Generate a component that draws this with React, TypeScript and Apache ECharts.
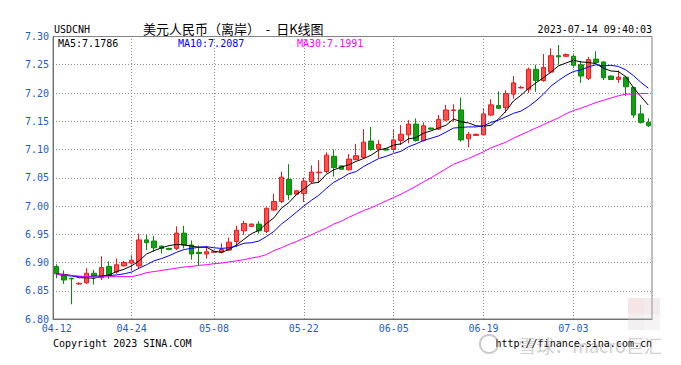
import React, { useEffect, useRef } from "react";
import * as echarts from "echarts";

const dates = [
  "04-12","04-13","04-14","04-15","04-17","04-18","04-19","04-20","04-21","04-22",
  "04-24","04-25","04-26","04-27","04-28","04-29","05-02","05-03","05-04","05-05",
  "05-06","05-08","05-09","05-10","05-11","05-12","05-13","05-15","05-16","05-17",
  "05-18","05-19","05-20","05-22","05-23","05-24","05-25","05-26","05-27","05-29",
  "05-30","05-31","06-01","06-02","06-03","06-05","06-06","06-07","06-08","06-09",
  "06-10","06-12","06-13","06-14","06-15","06-16","06-17","06-19","06-20","06-21",
  "06-22","06-23","06-24","06-26","06-27","06-28","06-29","06-30","07-01","07-03",
  "07-04","07-05","07-06","07-07","07-08","07-10","07-11","07-12","07-13","07-14"
];

const opens = [
  6.893,6.878,6.872,6.862,6.864,6.881,6.873,6.893,6.883,6.894,
  6.899,6.894,6.940,6.938,6.929,6.925,6.925,6.952,6.931,6.918,
  6.915,6.918,6.918,6.922,6.937,6.956,6.964,6.968,6.955,6.993,
  7.008,7.047,7.021,7.022,7.043,7.059,7.061,7.088,7.071,7.064,
  7.082,7.086,7.115,7.101,7.101,7.100,7.116,7.126,7.145,7.116,
  7.138,7.136,7.152,7.169,7.170,7.119,7.125,7.126,7.161,7.178,
  7.174,7.198,7.209,7.206,7.242,7.222,7.237,7.266,7.265,7.265,
  7.250,7.226,7.260,7.255,7.230,7.224,7.228,7.210,7.163,7.148
];
const closes = [
  6.880,6.869,6.871,6.863,6.881,6.876,6.891,6.877,6.896,6.900,
  6.904,6.940,6.935,6.926,6.925,6.923,6.952,6.931,6.915,6.916,
  6.919,6.919,6.923,6.936,6.957,6.969,6.968,6.956,6.996,7.008,
  7.051,7.020,7.027,7.044,7.060,7.060,7.090,7.068,7.065,7.083,
  7.089,7.113,7.100,7.109,7.099,7.117,7.127,7.145,7.116,7.142,
  7.136,7.153,7.170,7.170,7.117,7.127,7.127,7.163,7.179,7.173,
  7.199,7.218,7.210,7.242,7.222,7.245,7.266,7.264,7.268,7.249,
  7.230,7.259,7.254,7.227,7.224,7.228,7.211,7.161,7.148,7.142
];
const lows = [
  6.872,6.862,6.826,6.861,6.862,6.861,6.869,6.871,6.880,6.893,
  6.885,6.889,6.922,6.919,6.916,6.922,6.922,6.925,6.905,6.895,
  6.907,6.917,6.916,6.921,6.928,6.949,6.963,6.951,6.952,6.991,
  7.005,7.011,7.020,7.007,7.040,7.041,7.058,7.052,7.064,7.063,
  7.081,7.084,7.098,7.085,7.098,7.094,7.108,7.111,7.114,7.114,
  7.135,7.135,7.150,7.149,7.114,7.104,7.124,7.124,7.159,7.172,
  7.165,7.190,7.208,7.200,7.202,7.220,7.235,7.250,7.264,7.244,
  7.218,7.223,7.253,7.223,7.223,7.218,7.195,7.156,7.146,7.140
];
const highs = [
  6.897,6.886,6.873,6.865,6.890,6.887,6.911,6.902,6.907,6.903,
  6.914,6.951,6.949,6.947,6.930,6.926,6.964,6.965,6.939,6.930,
  6.929,6.920,6.934,6.944,6.965,6.974,6.969,6.973,6.998,7.022,
  7.061,7.074,7.028,7.050,7.072,7.081,7.095,7.100,7.072,7.092,
  7.110,7.136,7.140,7.117,7.102,7.136,7.143,7.152,7.155,7.148,
  7.139,7.161,7.179,7.180,7.192,7.131,7.128,7.173,7.189,7.203,
  7.205,7.230,7.213,7.245,7.250,7.269,7.279,7.285,7.270,7.270,
  7.257,7.264,7.274,7.256,7.231,7.240,7.229,7.211,7.179,7.155
];

const ma5 = [
  6.880,6.879,6.877,6.873,6.873,6.872,6.876,6.878,6.884,6.888,
  6.894,6.903,6.915,6.921,6.926,6.930,6.932,6.931,6.929,6.927,
  6.927,6.920,6.918,6.923,6.931,6.941,6.951,6.957,6.969,6.979,
  6.996,7.006,7.020,7.030,7.040,7.042,7.056,7.064,7.069,7.073,
  7.079,7.084,7.090,7.099,7.102,7.108,7.110,7.119,7.121,7.129,
  7.133,7.138,7.143,7.154,7.149,7.147,7.142,7.141,7.143,7.154,
  7.168,7.186,7.196,7.208,7.218,7.227,7.237,7.248,7.253,7.258,
  7.255,7.254,7.252,7.244,7.239,7.238,7.229,7.210,7.194,7.1786
];
const ma10 = [
  6.879,6.877,6.876,6.875,6.875,6.876,6.876,6.877,6.878,6.880,
  6.883,6.890,6.896,6.903,6.907,6.912,6.918,6.923,6.925,6.927,
  6.928,6.926,6.925,6.926,6.929,6.934,6.935,6.938,6.946,6.955,
  6.968,6.978,6.989,7.000,7.010,7.019,7.031,7.042,7.049,7.057,
  7.061,7.070,7.077,7.084,7.088,7.093,7.097,7.105,7.110,7.116,
  7.120,7.124,7.131,7.138,7.139,7.140,7.140,7.142,7.148,7.152,
  7.158,7.164,7.168,7.176,7.186,7.198,7.212,7.222,7.231,7.238,
  7.241,7.246,7.250,7.248,7.249,7.247,7.241,7.231,7.219,7.2087
];
const ma30 = [
  6.879,6.878,6.877,6.876,6.875,6.874,6.874,6.875,6.875,6.875,
  6.875,6.878,6.882,6.884,6.886,6.888,6.890,6.892,6.893,6.895,
  6.896,6.898,6.899,6.901,6.903,6.905,6.908,6.910,6.914,6.921,
  6.926,6.932,6.937,6.943,6.949,6.955,6.961,6.968,6.973,6.980,
  6.986,6.992,6.997,7.003,7.009,7.015,7.021,7.028,7.035,7.043,
  7.050,7.058,7.066,7.074,7.079,7.084,7.090,7.096,7.103,7.108,
  7.113,7.120,7.126,7.132,7.138,7.144,7.150,7.156,7.163,7.169,
  7.173,7.178,7.183,7.187,7.191,7.195,7.198,7.198,7.199,7.1991
];

const labelDates = ["04-12", "04-24", "05-08", "05-22", "06-05", "06-19", "07-03"];
const symbol = "USDCNH";
const title = "美元人民币（离岸）  -  日K线图";
const stamp = "2023-07-14 09:40:03";
const maNames = ["MA5", "MA10", "MA30"];

const MONO = '"DejaVu Sans Mono", "Liberation Mono", monospace';
const AXIS_BLUE = "#1E5EC8";
const GRID_COLOR = "#8c8c8c";

export default function App() {
  const ref = useRef<HTMLDivElement>(null);

  useEffect(() => {
    if (!ref.current) return;
    const chart = echarts.init(ref.current, null, { renderer: "svg" });
    const candle = dates.map((_, i) => [opens[i], closes[i], lows[i], highs[i]]);
    const maSeries = [ma5, ma10, ma30];
    const maColors = ["#000000", "#0000FF", "#FF00FF"];
    const maX = [58, 178, 297];

    const option: any = {
      animation: false,
      backgroundColor: "#ffffff",
      grid: {
        left: 53,
        top: 36.5,
        width: 599,
        height: 282.5,
        show: true,
        borderColor: "#808080",
        borderWidth: 1,
        backgroundColor: "transparent",
      },
      xAxis: {
        type: "category",
        data: dates,
        boundaryGap: true,
        axisLine: { show: true, lineStyle: { color: "#707070", width: 1 } },
        axisTick: { show: false },
        axisLabel: {
          interval: (_i: number, v: string) => labelDates.includes(v),
          color: AXIS_BLUE,
          fontFamily: MONO,
          fontSize: 10,
          margin: 4,
        },
        splitLine: { show: false },
      },
      yAxis: {
        type: "value",
        min: 6.8,
        max: 7.3,
        interval: 0.05,
        axisLine: { show: true, lineStyle: { color: "#707070", width: 1 } },
        axisTick: { show: false },
        axisLabel: {
          formatter: (v: number) => v.toFixed(2),
          color: AXIS_BLUE,
          fontFamily: MONO,
          fontSize: 10,
          margin: 4,
        },
        splitLine: { show: true, lineStyle: { color: GRID_COLOR, type: [1, 2], width: 1 } },
      },
      series: [
        {
          type: "candlestick",
          data: candle,
          barWidth: 5,
          itemStyle: {
            color: "#FF5050",
            color0: "#10A010",
            borderColor: "#F01818",
            borderColor0: "#0A8A0A",
            borderWidth: 1,
          },
          markLine: {
            silent: true,
            symbol: ["none", "none"],
            label: { show: false },
            lineStyle: { color: GRID_COLOR, type: [1, 2], width: 1 },
            emphasis: { disabled: true },
            data: labelDates.slice(1).map((d) => ({ xAxis: d })),
            animation: false,
          },
          z: 2,
        },
        ...maSeries.map((arr, k) => ({
          type: "line",
          name: maNames[k],
          data: arr,
          symbol: "none",
          showSymbol: false,
          smooth: false,
          lineStyle: { color: maColors[k], width: 1 },
          itemStyle: { color: maColors[k] },
          silent: true,
          z: 3,
        })),
      ],
      graphic: [
        {
          type: "text",
          x: 54,
          y: 29,
          style: { text: symbol, font: `10px ${MONO}`, fill: "#000", align: "left", verticalAlign: "middle", textAlign: "left", textVerticalAlign: "middle" },
        },
        {
          type: "text",
          x: 143,
          y: 28.5,
          style: { text: title, font: '13px "Noto Sans CJK SC", sans-serif', fill: "#000", align: "left", verticalAlign: "middle", textAlign: "left", textVerticalAlign: "middle" },
        },
        {
          type: "text",
          x: 652,
          y: 29,
          style: { text: stamp, font: `10px ${MONO}`, fill: "#000", align: "right", verticalAlign: "middle", textAlign: "right", textVerticalAlign: "middle" },
        },
        ...maSeries.map((arr, k) => ({
          type: "text",
          x: maX[k],
          y: 43.5,
          z: 10,
          style: {
            text: `${maNames[k]}:${arr[arr.length - 1].toFixed(4)}`,
            font: `10px ${MONO}`,
            fill: maColors[k],
            align: "left",
            verticalAlign: "middle",
            textAlign: "left",
            textVerticalAlign: "middle",
          },
        })),
        {
          type: "text",
          x: 53,
          y: 343,
          style: { text: "Copyright 2023 SINA.COM", font: `10px ${MONO}`, fill: "#000", align: "left", verticalAlign: "middle", textAlign: "left", textVerticalAlign: "middle" },
        },
        {
          type: "text",
          x: 652,
          y: 343,
          style: { text: "http://finance.sina.com.cn", font: `10px ${MONO}`, fill: "#000", align: "right", verticalAlign: "middle", textAlign: "right", textVerticalAlign: "middle" },
        },
        { type: "rect", shape: { x: 628, y: 298, width: 16, height: 16 }, style: { fill: "rgba(225,180,185,0.35)" }, z: 20 },
        { type: "rect", shape: { x: 644, y: 298, width: 16, height: 16 }, style: { fill: "rgba(210,190,195,0.3)" }, z: 20 },
        { type: "rect", shape: { x: 628, y: 314, width: 16, height: 16 }, style: { fill: "rgba(215,205,208,0.3)" }, z: 20 },
        { type: "rect", shape: { x: 644, y: 314, width: 16, height: 16 }, style: { fill: "rgba(225,215,218,0.3)" }, z: 20 },
        {
          type: "circle",
          shape: { cx: 489, cy: 344, r: 9 },
          style: { fill: "none", stroke: "rgba(140,140,140,0.45)", lineWidth: 2 },
          z: 20,
        },
        {
          type: "text",
          x: 662,
          y: 345,
          z: 20,
          style: {
            text: "雪球：macro巨汇",
            font: '18px "Noto Sans CJK SC", sans-serif',
            fill: "rgba(130,130,130,0.40)",
            align: "right",
            verticalAlign: "middle",
            textAlign: "right",
            textVerticalAlign: "middle",
          },
        },
      ],
    };

    chart.setOption(option);
    return () => chart.dispose();
  }, []);

  return (
    <div
      ref={ref}
      style={{ position: "fixed", left: 0, top: 0, width: 681, height: 365, background: "#ffffff" }}
    />
  );
}
